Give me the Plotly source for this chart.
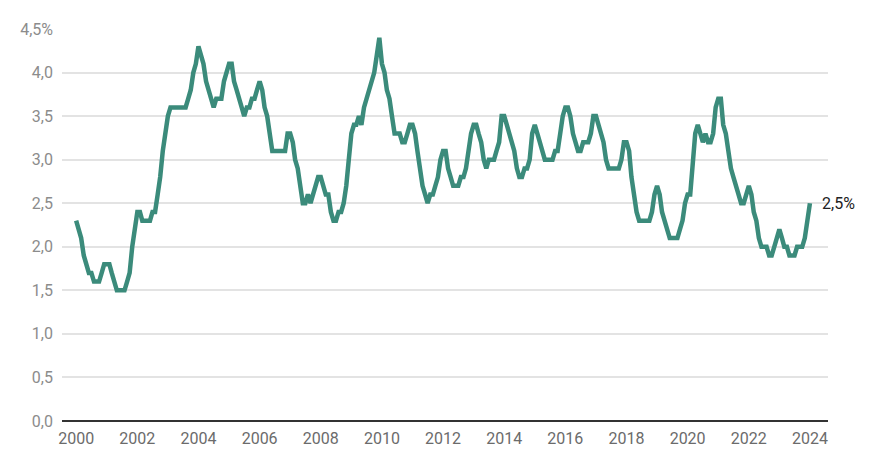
import pandas as pd
import plotly.graph_objects as go

# Monthly values, Jan 2000 .. Jan 2024 (percent)
v2000 = [2.3, 2.2, 2.1, 1.9, 1.8, 1.7, 1.7, 1.6, 1.6, 1.6, 1.7, 1.8]
v2001 = [1.8, 1.8, 1.7, 1.6, 1.5, 1.5, 1.5, 1.5, 1.6, 1.7, 2.0, 2.2]
v2002 = [2.4, 2.4, 2.3, 2.3, 2.3, 2.3, 2.4, 2.4, 2.6, 2.8, 3.1, 3.3]
v2003 = [3.5, 3.6, 3.6, 3.6, 3.6, 3.6, 3.6, 3.6, 3.7, 3.8, 4.0, 4.1]
v2004 = [4.3, 4.2, 4.1, 3.9, 3.8, 3.7, 3.6, 3.7, 3.7, 3.7, 3.9, 4.0]
v2005 = [4.1, 4.1, 3.9, 3.8, 3.7, 3.6, 3.5, 3.6, 3.6, 3.7, 3.7, 3.8]
v2006 = [3.9, 3.8, 3.6, 3.5, 3.3, 3.1, 3.1, 3.1, 3.1, 3.1, 3.1, 3.3]
v2007 = [3.3, 3.2, 3.0, 2.9, 2.7, 2.5, 2.5, 2.6, 2.5, 2.6, 2.7, 2.8]
v2008 = [2.8, 2.7, 2.6, 2.6, 2.4, 2.3, 2.3, 2.4, 2.4, 2.5, 2.7, 3.0]
v2009 = [3.3, 3.4, 3.4, 3.5, 3.4, 3.6, 3.7, 3.8, 3.9, 4.0, 4.2, 4.4]
v2010 = [4.1, 4.0, 3.8, 3.7, 3.5, 3.3, 3.3, 3.3, 3.2, 3.2, 3.3, 3.4]
v2011 = [3.4, 3.3, 3.1, 2.9, 2.7, 2.6, 2.5, 2.6, 2.6, 2.7, 2.8, 3.0]
v2012 = [3.1, 3.1, 2.9, 2.8, 2.7, 2.7, 2.7, 2.8, 2.8, 2.9, 3.1, 3.3]
v2013 = [3.4, 3.4, 3.3, 3.2, 3.0, 2.9, 3.0, 3.0, 3.0, 3.1, 3.2, 3.5]
v2014 = [3.5, 3.4, 3.3, 3.2, 3.1, 2.9, 2.8, 2.8, 2.9, 2.9, 3.0, 3.3]
v2015 = [3.4, 3.3, 3.2, 3.1, 3.0, 3.0, 3.0, 3.0, 3.1, 3.1, 3.3, 3.5]
v2016 = [3.6, 3.6, 3.5, 3.3, 3.2, 3.1, 3.1, 3.2, 3.2, 3.2, 3.3, 3.5]
v2017 = [3.5, 3.4, 3.3, 3.2, 3.0, 2.9, 2.9, 2.9, 2.9, 2.9, 3.0, 3.2]
v2018 = [3.2, 3.1, 2.8, 2.6, 2.4, 2.3, 2.3, 2.3, 2.3, 2.3, 2.4, 2.6]
v2019 = [2.7, 2.6, 2.4, 2.3, 2.2, 2.1, 2.1, 2.1, 2.1, 2.2, 2.3, 2.5]
v2020 = [2.6, 2.6, 3.0, 3.3, 3.4, 3.3, 3.2, 3.3, 3.2, 3.2, 3.3, 3.6]
v2021 = [3.7, 3.7, 3.4, 3.3, 3.1, 2.9, 2.8, 2.7, 2.6, 2.5, 2.5, 2.6]
v2022 = [2.7, 2.6, 2.4, 2.3, 2.1, 2.0, 2.0, 2.0, 1.9, 1.9, 2.0, 2.1]
v2023 = [2.2, 2.1, 2.0, 2.0, 1.9, 1.9, 1.9, 2.0, 2.0, 2.0, 2.1, 2.3]
v2024 = [2.5]

values = (v2000 + v2001 + v2002 + v2003 + v2004 + v2005 + v2006 + v2007 + v2008
          + v2009 + v2010 + v2011 + v2012 + v2013 + v2014 + v2015 + v2016 + v2017
          + v2018 + v2019 + v2020 + v2021 + v2022 + v2023 + v2024)
dates = pd.date_range("2000-01-01", periods=len(values), freq="MS")

x_tick_years = [2000, 2002, 2004, 2006, 2008, 2010, 2012, 2014, 2016, 2018, 2020, 2022, 2024]
x_tick_labels = [str(y) for y in x_tick_years]
y_tick_vals = [0, 0.5, 1.0, 1.5, 2.0, 2.5, 3.0, 3.5, 4.0, 4.5]
y_tick_labels = ["0,0", "0,5", "1,0", "1,5", "2,0", "2,5", "3,0", "3,5", "4,0", "4,5%"]
end_label = "2,5%"

LINE = "#3b8b7b"
FONT = "Roboto, Liberation Sans, sans-serif"

fig = go.Figure()
fig.add_trace(go.Scatter(x=dates, y=values, mode="lines",
                         line=dict(color=LINE, width=4.5), hoverinfo="skip"))

fig.add_annotation(x=dates[-1], y=values[-1], text=end_label, showarrow=False,
                   xanchor="left", yanchor="middle", xshift=10,
                   font=dict(family=FONT, size=16, color="#222222"))

fig.update_layout(
    width=873, height=459,
    margin=dict(l=54, r=53, t=14, b=46),
    plot_bgcolor="white", paper_bgcolor="white",
    showlegend=False,
    font=dict(family=FONT, size=16),
)
fig.update_xaxes(
    range=["1999-07-16", "2024-08-04"],
    tickvals=[pd.Timestamp(f"{y}-01-01") for y in x_tick_years],
    ticktext=x_tick_labels,
    showgrid=False, zeroline=False,
    showline=False, ticks="",
    ticklabelstandoff=6,
    tickfont=dict(family=FONT, size=16, color="#6b6b6b"),
)
fig.update_yaxes(
    range=[0, 4.5],
    tickvals=y_tick_vals, ticktext=y_tick_labels,
    showgrid=True, gridcolor="#e3e3e3", gridwidth=1.5,
    zeroline=True, zerolinecolor="#333333", zerolinewidth=2,
    showline=False, ticks="",
    ticklabelstandoff=8,
    tickfont=dict(family=FONT, size=16, color="#8c8c8c"),
)

fig.write_html("out.html")
